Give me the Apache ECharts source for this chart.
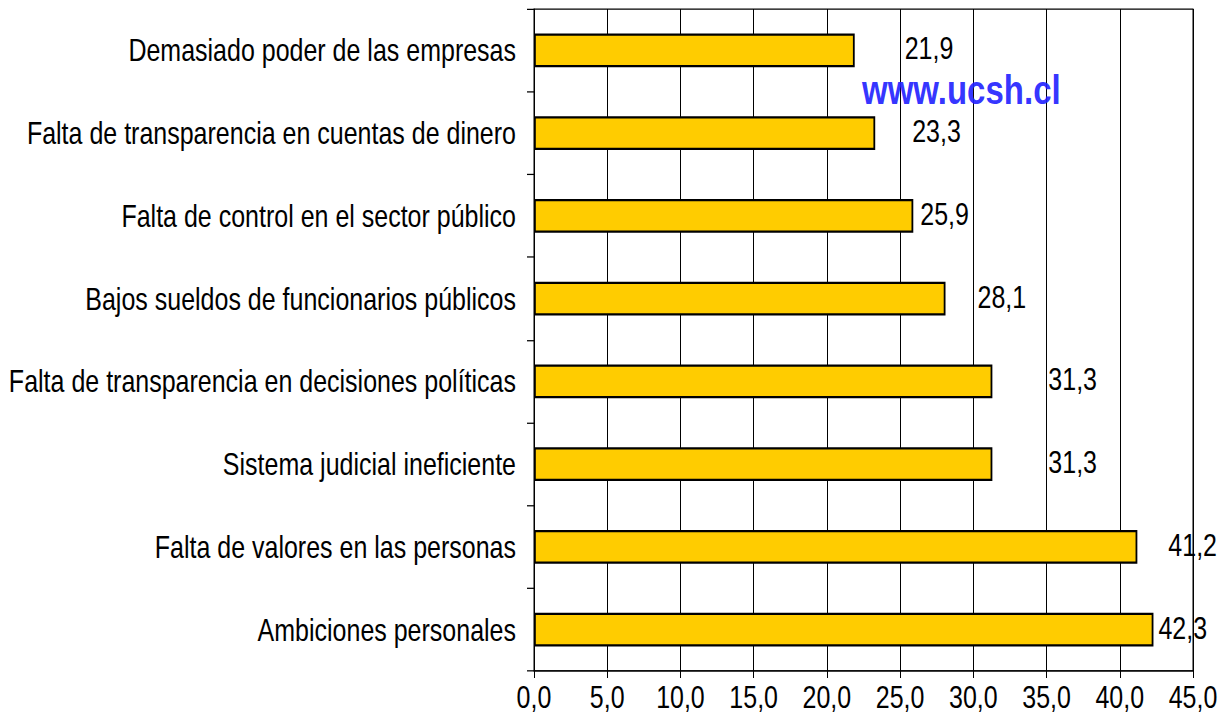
<!DOCTYPE html>
<html>
<head>
<meta charset="utf-8">
<script src="https://cdn.jsdelivr.net/npm/echarts@6/dist/echarts.min.js"></script>
<style>
  html, body { margin: 0; padding: 0; background: #fff; width: 1222px; height: 719px; overflow: hidden; }
  /* el original esta estirado en vertical (~1.25): se dibuja en 575px de alto y se estira a 719 */
  #chart { width: 1222px; height: 575px; transform: scaleY(1.2504); transform-origin: 0 0; }
</style>
</head>
<body>
<div id="chart"></div>
<script>
  // categorias (de arriba hacia abajo)
  var categorias = [
    'Demasiado poder de las empresas',
    'Falta de transparencia en cuentas de dinero',
    'Falta de control en el sector público',
    'Bajos sueldos de funcionarios públicos',
    'Falta de transparencia en decisiones políticas',
    'Sistema judicial ineficiente',
    'Falta de valores en las personas',
    'Ambiciones personales'
  ];
  var valores = [21.9, 23.3, 25.9, 28.1, 31.3, 31.3, 41.2, 42.3];
  var ticksX = { min: 0, max: 45, step: 5 };

  // separacion de cada etiqueta respecto de su barra (como en el original)
  var separacion = [50, 37, 7, 32, 56, 56, 31, 5];

  var fuente = '"Liberation Sans", Arial, sans-serif';

  function coma(v) {
    return v.toFixed(1).replace('.', ',');
  }

  var myChart = echarts.init(document.getElementById('chart'), null, { renderer: 'svg' });
  myChart.setOption({
    backgroundColor: '#fff',
    animation: false,
    grid: {
      left: 534,
      right: 29,
      top: 7.2,
      bottom: 38.4,
      containLabel: false,
      outerBoundsMode: 'none',
      show: true,
      borderColor: '#000',
      borderWidth: 1
    },
    xAxis: {
      type: 'value',
      min: ticksX.min,
      max: ticksX.max,
      interval: ticksX.step,
      axisLine: { show: true, lineStyle: { color: '#000', width: 1 } },
      axisTick: { show: true, length: 5.6, lineStyle: { color: '#000' } },
      splitLine: { show: true, lineStyle: { color: '#000', width: 1 } },
      axisLabel: {
        color: '#000',
        fontFamily: fuente,
        fontSize: 25,
        margin: 8,
        formatter: function (v) { return coma(v); }
      }
    },
    yAxis: {
      type: 'category',
      inverse: true,
      data: categorias,
      axisLine: { show: true, lineStyle: { color: '#000', width: 1 } },
      axisTick: { show: true, length: 7, lineStyle: { color: '#000' } },
      axisLabel: {
        color: '#000',
        fontFamily: fuente,
        fontSize: 25,
        margin: 18
      }
    },
    series: [{
      type: 'bar',
      barWidth: '41%',
      itemStyle: {
        color: '#FFCC00',
        borderColor: '#000',
        borderWidth: 1.8
      },
      data: valores.map(function (v, i) {
        return {
          value: v,
          label: { distance: separacion[i] }
        };
      }),
      label: {
        show: true,
        position: 'right',
        offset: [0, -1.6],
        color: '#000',
        fontFamily: fuente,
        fontSize: 25,
        formatter: function (p) { return coma(p.value); }
      }
    }],
    graphic: [{
      type: 'text',
      x: 862,
      y: 55,
      z: 100,
      style: {
        text: 'www.ucsh.cl',
        fill: '#2222ff',
        font: 'bold 33px ' + fuente,
        verticalAlign: 'top',
        opacity: 0.92
      }
    }]
  });
</script>
</body>
</html>
